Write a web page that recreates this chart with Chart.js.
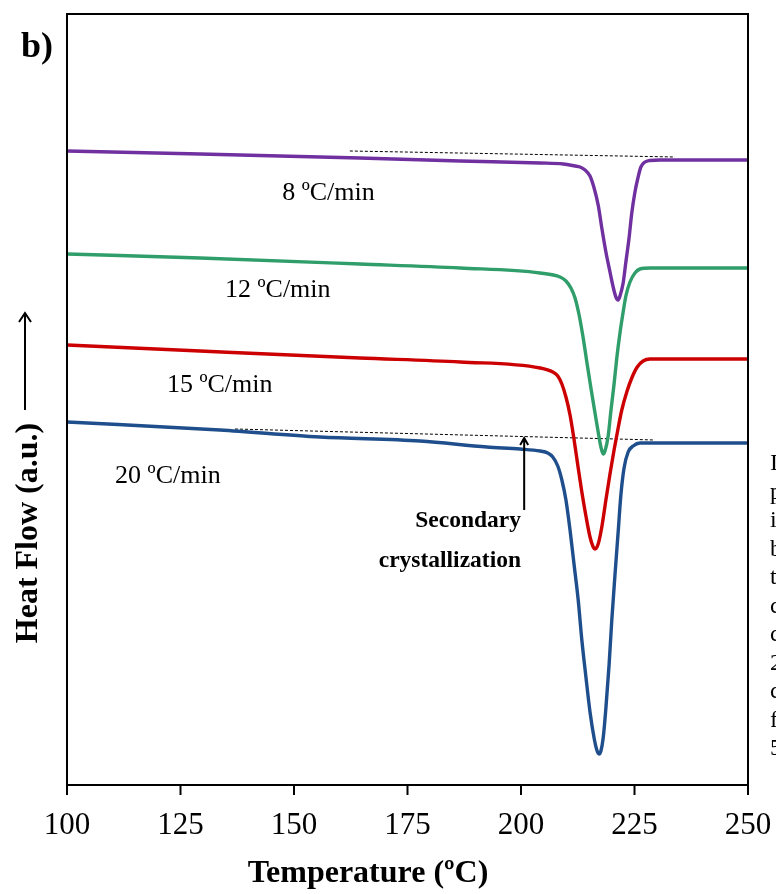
<!DOCTYPE html>
<html>
<head>
<meta charset="utf-8">
<script src="https://cdn.jsdelivr.net/npm/chart.js@4/dist/chart.umd.min.js"></script>
<style>
  html, body { margin: 0; padding: 0; background: #ffffff; }
  #c { display: block; }
</style>
</head>
<body>
<canvas id="c" width="776" height="894"></canvas>
<script>
// ---- Data (temperature in °C, heat flow in arbitrary units) ----
const xTicks = [100, 125, 150, 175, 200, 225, 250];

const rate8T  = [100, 129.3, 164.5, 186.6, 204.2, 209.3, 211.9, 213.0, 214.1, 215.2, 216.1, 217.0, 217.8, 218.7, 219.6, 220.3, 220.9, 221.4, 221.8, 222.5, 223.1, 223.8, 224.4, 225.1, 225.8, 226.4, 227.3, 228.4, 230.6, 250];
const rate8HF = [634, 631, 627, 624, 622, 621, 619, 618, 615, 609, 597, 580, 557, 533, 513, 498, 488, 485, 489, 502, 523, 547, 572, 593, 608, 618, 623, 624.5, 625, 625];

const rate12T  = [100, 129.3, 164.5, 186.6, 204.2, 208.6, 209.9, 211.0, 211.9, 212.8, 213.7, 214.5, 215.4, 216.3, 217.0, 217.6, 218.1, 218.5, 219.2, 219.8, 220.5, 221.1, 221.8, 222.5, 223.1, 224.0, 225.1, 226.2, 228.4, 250];
const rate12HF = [531, 527, 521, 517, 512, 508, 504, 497, 487, 470, 447, 423, 397, 372, 353, 338, 331, 334, 349, 374, 401, 427, 452, 473, 489, 503, 512, 516, 517, 517];

const rate15T  = [100, 129.3, 164.5, 186.6, 204.2, 207.0, 208.1, 209.0, 209.9, 210.8, 211.7, 212.6, 213.4, 214.3, 215.2, 215.9, 216.3, 217.0, 217.8, 218.7, 219.6, 220.5, 221.4, 222.2, 223.3, 224.4, 225.6, 226.9, 228.4, 250];
const rate15HF = [440, 434, 427, 423, 417, 413, 409, 401, 388, 370, 345, 317, 293, 269, 248, 238, 236, 241, 258, 285, 311, 335, 357, 375, 393, 407, 418, 424, 426, 426];

const rate20T  = [100, 133.7, 155.7, 177.8, 192.5, 199.8, 204.2, 205.9, 207.0, 208.1, 209.0, 209.9, 210.8, 211.7, 212.6, 213.4, 214.3, 215.2, 216.1, 216.7, 217.2, 217.6, 218.1, 218.7, 219.4, 220.0, 220.7, 221.4, 222.0, 222.7, 223.6, 224.7, 226.2, 250];
const rate20HF = [363, 355, 348, 344, 338, 336, 334, 332, 328, 319, 305, 285, 255, 220, 185, 145, 108, 73, 47, 35, 31, 34, 47, 77, 120, 165, 210, 253, 290, 317, 333, 339, 342, 342];

const base8T  = [162.3, 233.9];
const base8HF = [634, 628];
const base20T  = [137.0, 229.5];
const base20HF = [356, 345];

const seriesLabels = ['8 ºC/min', '12 ºC/min', '15 ºC/min', '20 ºC/min'];
// label anchors in data coordinates (T, HF)
const labelT  = [147.4, 134.8, 122.0, 110.6];
const labelHF = [585, 488, 393, 302];

const arrowT = 200.7;
const arrowFromHF = 275;
const arrowToHF = 347;

// ---- build ----
function pts(xs, ys) { return xs.map((x, i) => ({ x: x, y: ys[i] })); }

const SERIF = '"Liberation Serif", "Times New Roman", Times, serif';

function curve(label, xs, ys, color) {
  return {
    label: label,
    data: pts(xs, ys),
    borderColor: color,
    backgroundColor: color,
    borderWidth: 3.4,
    pointRadius: 0,
    fill: false,
    cubicInterpolationMode: 'monotone'
  };
}
function dashed(xs, ys) {
  return {
    label: 'baseline',
    data: pts(xs, ys),
    borderColor: '#000000',
    borderWidth: 1,
    borderDash: [3, 2],
    pointRadius: 0,
    fill: false,
    tension: 0
  };
}

const overlay = {
  id: 'overlay',
  afterDraw(chart) {
    const ctx = chart.ctx;
    const xs = chart.scales.x, ys = chart.scales.y;
    const a = chart.chartArea;
    ctx.save();
    // frame
    ctx.strokeStyle = '#000';
    ctx.lineWidth = 2;
    ctx.strokeRect(a.left, a.top, a.right - a.left, a.bottom - a.top);
    // ticks + tick labels
    ctx.fillStyle = '#000';
    ctx.font = '31px ' + SERIF;
    ctx.textAlign = 'center';
    ctx.textBaseline = 'middle';
    xTicks.forEach(t => {
      const px = xs.getPixelForValue(t);
      ctx.beginPath();
      ctx.moveTo(px, a.bottom);
      ctx.lineTo(px, a.bottom + 10);
      ctx.stroke();
      ctx.fillText(String(t), px, 826);
    });
    // x title
    ctx.font = 'bold 32px ' + SERIF;
    ctx.fillText('Temperature (ºC)', 368, 874);
    // y title
    ctx.save();
    ctx.translate(29, 533);
    ctx.rotate(-Math.PI / 2);
    ctx.fillText('Heat Flow (a.u.)', 0, 0);
    ctx.restore();
    // y arrow
    ctx.lineWidth = 2;
    ctx.beginPath();
    ctx.moveTo(25, 410); ctx.lineTo(25, 313);
    ctx.moveTo(19, 322); ctx.lineTo(25, 313); ctx.lineTo(31, 322);
    ctx.stroke();
    // panel label
    ctx.textAlign = 'left';
    ctx.textBaseline = 'alphabetic';
    ctx.font = 'bold 36px ' + SERIF;
    ctx.fillText('b)', 21, 57);
    // series labels
    ctx.font = '26px ' + SERIF;
    seriesLabels.forEach((s, i) => {
      ctx.fillText(s, xs.getPixelForValue(labelT[i]), ys.getPixelForValue(labelHF[i]));
    });
    // secondary crystallization arrow
    const ax = xs.getPixelForValue(arrowT);
    const ay0 = ys.getPixelForValue(arrowFromHF);
    const ay1 = ys.getPixelForValue(arrowToHF);
    ctx.lineWidth = 2;
    ctx.beginPath();
    ctx.moveTo(ax, ay0); ctx.lineTo(ax, ay1);
    ctx.moveTo(ax - 4, ay1 + 7); ctx.lineTo(ax, ay1); ctx.lineTo(ax + 4, ay1 + 7);
    ctx.stroke();
    ctx.textAlign = 'right';
    ctx.font = 'bold 23.5px ' + SERIF;
    ctx.fillText('Secondary', 521, 527);
    ctx.fillText('crystallization', 521, 567);
    // cut-off paragraph text on the right edge
    ctx.textAlign = 'left';
    ctx.font = '24px ' + SERIF;
    const edge = ['I', 'p', 'i', 'b', 't', 'c', 'c', '2', 'c', 'f', '5'];
    edge.forEach((ch, i) => ctx.fillText(ch, 770, 470 + i * 28.5));
    ctx.restore();
  }
};

new Chart(document.getElementById('c'), {
  type: 'line',
  data: {
    datasets: [
      curve(seriesLabels[0], rate8T, rate8HF, '#7030A0'),
      curve(seriesLabels[1], rate12T, rate12HF, '#2F9E6A'),
      curve(seriesLabels[2], rate15T, rate15HF, '#CC0000'),
      curve(seriesLabels[3], rate20T, rate20HF, '#1F4E8C'),
      dashed(base8T, base8HF),
      dashed(base20T, base20HF)
    ]
  },
  options: {
    responsive: false,
    animation: false,
    devicePixelRatio: 1,
    layout: { padding: { left: 67, top: 14, right: 28, bottom: 109 } },
    scales: {
      x: { type: 'linear', min: 100, max: 250, display: false },
      y: { type: 'linear', min: 0, max: 771, display: false }
    },
    plugins: { legend: { display: false }, tooltip: { enabled: false } },
    elements: { point: { radius: 0 } }
  },
  plugins: [overlay]
});
</script>
</body>
</html>
